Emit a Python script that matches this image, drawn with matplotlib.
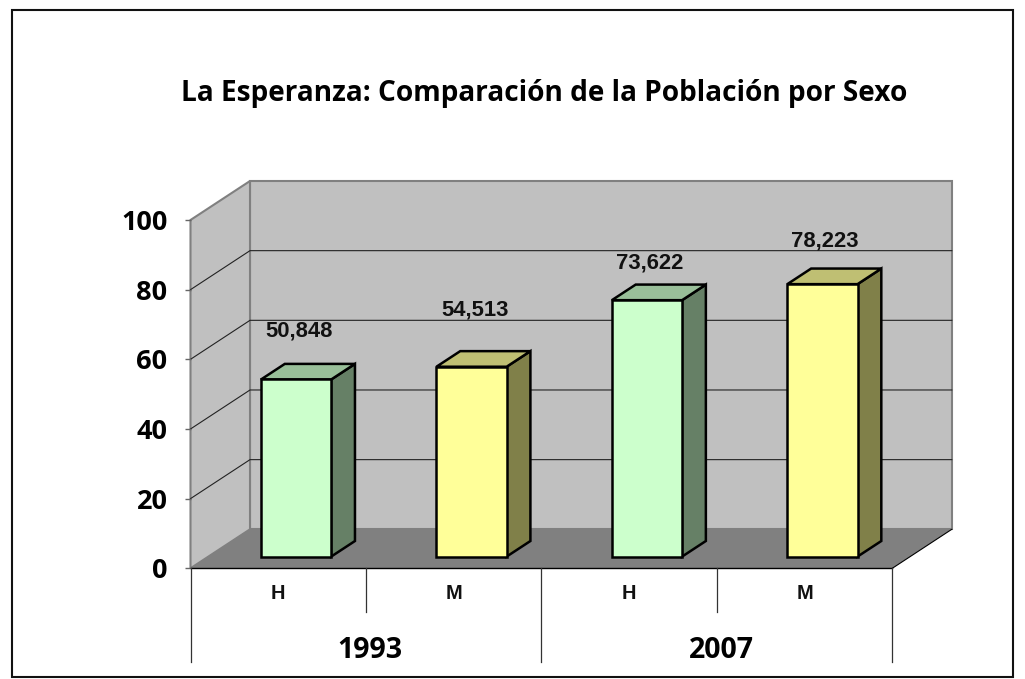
import matplotlib
matplotlib.use("Agg")
import matplotlib.pyplot as plt
from matplotlib.patches import Polygon, Rectangle

# ---- data ----
title = "La Esperanza: Comparación de la Población por Sexo"
sex_labels = ["H", "M", "H", "M"]
year_labels = ["1993", "2007"]
values = [50.848, 54.513, 73.622, 78.223]
value_labels = ["50,848", "54,513", "73,622", "78,223"]
y_ticks = [0, 20, 40, 60, 80, 100]

# ---- style / layout ----
W, H = 1025, 679
UI = ["Open Sans", "DejaVu Sans"]
ARIAL = ["Liberation Sans", "DejaVu Sans"]
front_cols = ["#CCFFCC", "#FFFF99", "#CCFFCC", "#FFFF99"]
top_cols = ["#99BF99", "#BFBF73", "#99BF99", "#BFBF73"]
side_cols = ["#668066", "#808049", "#668066", "#808049"]
label_lift_px = [48, 57, 37, 43]
label_shift_px = [3, 3, 3, 2]

fig = plt.figure(figsize=(W / 100, H / 100), dpi=100, facecolor="white")
fig.add_artist(Rectangle((12 / W, 1 - 677 / H), 1001 / W, 667 / H, transform=fig.transFigure,
                         fill=False, edgecolor="#111111", linewidth=1.5))

left, right, y0_px, y100_px = 190.5, 892.3, 568.3, 220.0
ax = fig.add_axes([left / W, 1 - y0_px / H, (right - left) / W, (y0_px - y100_px) / H])
ax.set_xlim(0, len(values))
ax.set_ylim(0, 100)
ax.patch.set_visible(False)
for s in ax.spines.values():
    s.set_visible(False)

# oblique depth projection: depth 0 = front plane, depth 1 = back wall
DX = 59.5 / ((right - left) / len(values))
DY = 39.0 / ((y0_px - y100_px) / 100)


def pr(x, y, d):
    return (x + d * DX, y + d * DY)


def poly(pts, **kw):
    ax.add_patch(Polygon(pts, closed=True, clip_on=False, **kw))


xmax = len(values)
WALL, EDGE, FLOOR = "#C0C0C0", "#808080", "#808080"
# walls and floor
poly([pr(0, 0, 1), pr(xmax, 0, 1), pr(xmax, 100, 1), pr(0, 100, 1)],
     facecolor=WALL, edgecolor=EDGE, linewidth=1.5, zorder=1)
poly([pr(0, 0, 0), pr(0, 0, 1), pr(0, 100, 1), pr(0, 100, 0)],
     facecolor=WALL, edgecolor=EDGE, linewidth=1.5, zorder=1)
poly([pr(0, 0, 0), pr(xmax, 0, 0), pr(xmax, 0, 1), pr(0, 0, 1)],
     facecolor=FLOOR, edgecolor="none", zorder=2)

# gridlines
for t in y_ticks[1:-1]:
    pts = [pr(0, t, 0), pr(0, t, 1), pr(xmax, t, 1)]
    ax.plot([p[0] for p in pts], [p[1] for p in pts], color="#222222", lw=0.8,
            clip_on=False, zorder=1.5)

# floor outlines
a, b = pr(xmax, 0, 0), pr(xmax, 0, 1)
ax.plot([a[0], b[0]], [a[1], b[1]], color="black", lw=0.8, clip_on=False, zorder=3)
ax.plot([0, xmax], [0, 0], color="black", lw=1.0, clip_on=False, zorder=3)

# bars
bar_w = 0.40
d0, d1 = 0.30, 0.70
for i, v in enumerate(values):
    x0 = i + 0.5 - bar_w / 2
    x1 = i + 0.5 + bar_w / 2
    kw = dict(edgecolor="black", linewidth=1.8, joinstyle="miter", zorder=5 + i)
    poly([pr(x1, 0, d0), pr(x1, 0, d1), pr(x1, v, d1), pr(x1, v, d0)], facecolor=side_cols[i], **kw)
    poly([pr(x0, v, d0), pr(x1, v, d0), pr(x1, v, d1), pr(x0, v, d1)], facecolor=top_cols[i], **kw)
    poly([pr(x0, 0, d0), pr(x1, 0, d0), pr(x1, v, d0), pr(x0, v, d0)], facecolor=front_cols[i], **kw)
    ax.annotate(value_labels[i], xy=pr(i + 0.5, v, d0), annotation_clip=False,
                xytext=(label_shift_px[i], label_lift_px[i]), textcoords="offset pixels",
                ha="center", va="center", fontsize=15.8, fontweight="bold",
                family=ARIAL, color="#111111", zorder=20)

# y axis
ax.set_yticks(y_ticks)
ax.set_yticklabels([str(t) for t in y_ticks], fontsize=19.5, fontweight="bold", family=UI)
ax.tick_params(axis="y", length=4.5, width=1.0, color="#666666", pad=12)
ax.set_xticks([])

# multi-level category axis
low1, low2 = -12.5, -26.8
for k in range(xmax + 1):
    low = low2 if k % 2 == 0 else low1
    ax.plot([k, k], [0, low], color="#333333", lw=0.9, clip_on=False, zorder=3)
for i, s in enumerate(sex_labels):
    ax.text(i + 0.5, -7.1, s, ha="center", va="center", fontsize=14.4, fontweight="bold",
            family=ARIAL, color="#111111", clip_on=False)
for j, s in enumerate(year_labels):
    ax.text(2 * j + 1.025, -23.6, s, ha="center", va="center", fontsize=20.5, fontweight="bold",
            family=UI, color="black", clip_on=False)

fig.text(544 / W, 1 - 94 / H, title, ha="center", va="center", fontsize=20.2,
         fontweight="bold", family=UI, color="black")

fig.savefig("out.png", dpi=100)
